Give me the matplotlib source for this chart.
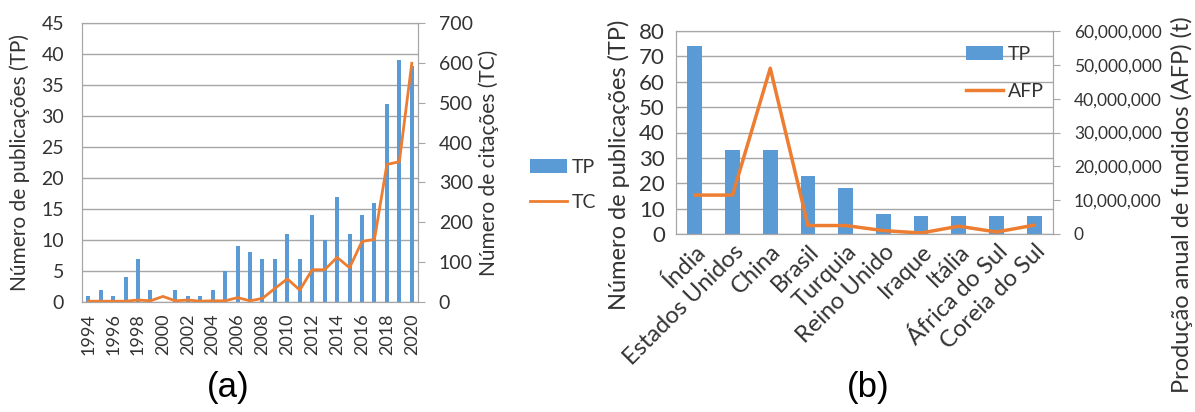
import numpy as np
import matplotlib.pyplot as plt
from matplotlib.ticker import FuncFormatter, MultipleLocator

plt.rcParams['font.family'] = ['Lato', 'DejaVu Sans']

# === Dados (a) ===
anos = list(range(1994, 2021))
tp_anos = [1, 2, 1, 4, 7, 2, 0, 2, 1, 1, 2, 5, 9, 8, 7, 7, 11, 7, 14, 10, 17, 11, 14, 16, 32, 39, 38]
tc_anos = [2, 2, 2, 2, 5, 3, 14, 3, 5, 2, 3, 3, 11, 3, 9, 34, 58, 30, 81, 81, 112, 86, 152, 157, 345, 352, 599]

# === Dados (b) ===
paises = ["Índia", "Estados Unidos", "China", "Brasil", "Turquia", "Reino Unido",
          "Iraque", "Itália", "África do Sul", "Coreia do Sul"]
tp_paises = [74, 33, 33, 23, 18, 8, 7, 7, 7, 7]
afp_paises = [11.5e6, 11.5e6, 49e6, 2.5e6, 2.5e6, 1.0e6, 0.3e6, 2.3e6, 0.6e6, 2.6e6]

azul = '#5B9BD5'
laranja = '#ED7D31'
cinza = '#a6a6a6'
texto = '#333333'
W, H = 1195, 412

fig = plt.figure(figsize=(W / 100, H / 100), dpi=100)


def estilo(ax, ax2, fs_esq, fs_dir, pad_esq):
    for a in (ax, ax2):
        for s in a.spines.values():
            s.set_color(cinza)
        a.tick_params(colors=texto)
    ax.tick_params(axis='y', length=0, pad=pad_esq, labelsize=fs_esq)
    ax2.tick_params(axis='y', length=5, color=cinza, pad=10, labelsize=fs_dir)
    ax.yaxis.grid(True, color=cinza, linewidth=1)
    ax.set_axisbelow(True)


# === (a) ===
ax = fig.add_axes([82 / W, (H - 302) / H, (418 - 82) / W, (302 - 23) / H])
ax2 = ax.twinx()
x = np.arange(len(anos))
ax.bar(x, tp_anos, width=0.33, color=azul, label='TP', zorder=2)
ax2.plot(x, tc_anos, color=laranja, linewidth=2, label='TC')
ax.set_xlim(-0.5, len(anos) - 0.5)
ax.set_ylim(0, 45)
ax2.set_ylim(0, 700)
ax.yaxis.set_major_locator(MultipleLocator(5))
ax2.yaxis.set_major_locator(MultipleLocator(100))
ax.set_xticks(x[::2])
ax.set_xticklabels([str(a) for a in anos[::2]], rotation=90)
ax.tick_params(axis='x', length=0, pad=8, labelsize=13)
estilo(ax, ax2, 14, 14, 13)
ax.set_ylabel("Número de publicações (TP)", fontsize=15, color=texto, labelpad=8)
ax2.set_ylabel("Número de citações (TC)", fontsize=15, color=texto, labelpad=4)
h1, l1 = ax.get_legend_handles_labels()
h2, l2 = ax2.get_legend_handles_labels()
fig.legend(h1 + h2, l1 + l2, loc='center left', bbox_to_anchor=(530 / W, (H - 185) / H),
           frameon=False, fontsize=14, handlelength=1.9, labelspacing=0.95,
           handletextpad=0.25, borderpad=0, borderaxespad=0, labelcolor=texto)
fig.text(228 / W, (H - 388) / H, "(a)", fontsize=25, family='Liberation Sans',
         ha='center', va='center')

# === (b) ===
bx = fig.add_axes([676 / W, (H - 234) / H, (1053 - 676) / W, (234 - 31) / H])
bx2 = bx.twinx()
xp = np.arange(len(paises))
bx.bar(xp, tp_paises, width=0.39, color=azul, label='TP', zorder=2)
bx2.plot(xp, afp_paises, color=laranja, linewidth=2.5, label='AFP')
bx.set_xlim(-0.5, len(paises) - 0.5)
bx.set_ylim(0, 80)
bx2.set_ylim(0, 60e6)
bx.yaxis.set_major_locator(MultipleLocator(10))
bx2.yaxis.set_major_locator(MultipleLocator(10e6))
bx2.yaxis.set_major_formatter(FuncFormatter(lambda v, p: f"{int(v):,}"))
bx.set_xticks(xp)
bx.set_xticklabels(paises, rotation=45, ha='right', rotation_mode='anchor')
bx.tick_params(axis='x', length=0, pad=5, labelsize=17)
estilo(bx, bx2, 16, 12.5, 8)
fig.text(619 / W, (H - 165) / H, "Número de publicações (TP)", fontsize=17, color=texto,
         rotation=90, ha='center', va='center')
fig.text(1182 / W, (H - 205) / H, "Produção anual de fundidos (AFP) (t)", fontsize=17,
         color=texto, rotation=90, ha='center', va='center')
h1, l1 = bx.get_legend_handles_labels()
h2, l2 = bx2.get_legend_handles_labels()
fig.legend(h1 + h2, l1 + l2, loc='center left', bbox_to_anchor=(966 / W, (H - 73) / H),
           frameon=False, fontsize=14, handlelength=1.9, labelspacing=1.05,
           handletextpad=0.25, borderpad=0, borderaxespad=0, labelcolor=texto)
fig.text(868 / W, (H - 388) / H, "(b)", fontsize=25, family='Liberation Sans',
         ha='center', va='center')

fig.savefig("out.png", dpi=100)
